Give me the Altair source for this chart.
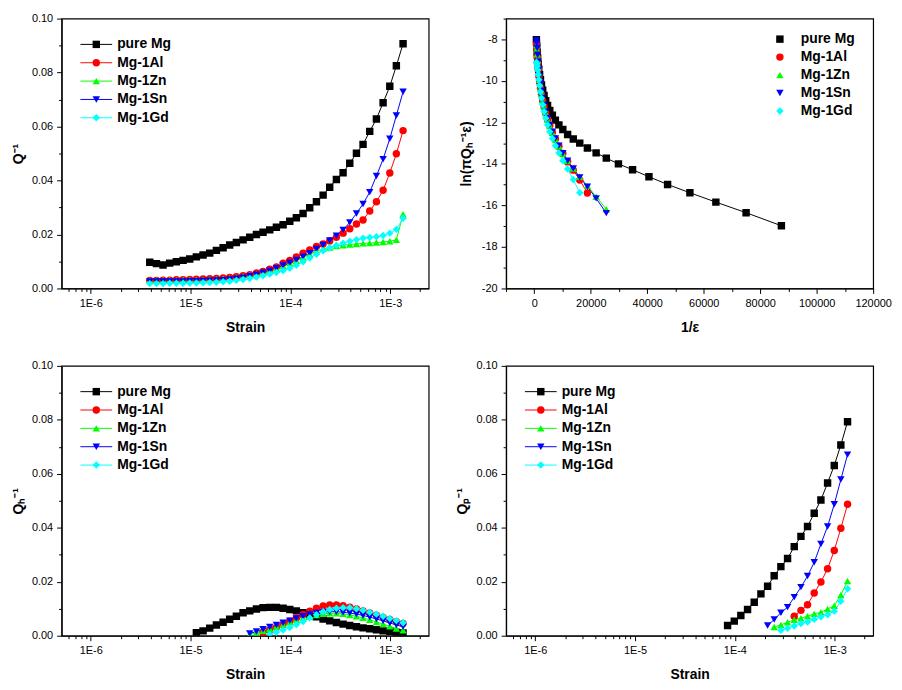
import altair as alt
import pandas as pd

FONT = "Liberation Sans"
SERIES = ["pure Mg", "Mg-1Al", "Mg-1Zn", "Mg-1Sn", "Mg-1Gd"]
COLORS = ["#000000", "#ff0000", "#00ff00", "#0000ff", "#00ffff"]
SHAPES = ["square", "circle", "triangle-up", "triangle-down", "diamond"]

# strain amplitude grid (k = 1..39)
STRAIN = [3.90e-6, 4.55e-6, 5.30e-6, 6.18e-6, 7.21e-6, 8.41e-6, 9.81e-6, 1.143e-5,
          1.334e-5, 1.556e-5, 1.815e-5, 2.118e-5, 2.466e-5, 2.877e-5, 3.357e-5,
          3.917e-5, 4.571e-5, 5.321e-5, 6.209e-5, 7.244e-5, 8.453e-5, 9.863e-5,
          1.148e-4, 1.340e-4, 1.563e-4, 1.824e-4, 2.128e-4, 2.477e-4, 2.891e-4,
          3.373e-4, 3.936e-4, 4.592e-4, 5.346e-4, 6.237e-4, 7.278e-4, 8.492e-4,
          9.908e-4, 1.153e-3, 1.346e-3]
# 1/strain for k = 8..39
INV_STRAIN = [87500, 75000, 64300, 55100, 47200, 40600, 34800, 29800, 25500, 21900,
              18800, 16100, 13800, 11800, 10100, 8710, 7460, 6400, 5480, 4700, 4040,
              3460, 2970, 2540, 2180, 1870, 1600, 1370, 1180, 1010, 867, 743]

# total damping Q^-1 (k = 1..39)
Q_TOTAL = {
    "pure Mg": [0.0097, 0.0092, 0.0087, 0.0094, 0.0099, 0.0104, 0.0109, 0.0117, 0.0124, 0.0131,
                0.0141, 0.0151, 0.0161, 0.0170, 0.0180, 0.0190, 0.0200, 0.0208, 0.0217, 0.0227,
                0.0236, 0.0249, 0.0262, 0.0278, 0.0299, 0.0321, 0.0346, 0.0375, 0.0404, 0.0429,
                0.0464, 0.0501, 0.0534, 0.0582, 0.0628, 0.0688, 0.0749, 0.0825, 0.0907],
    "Mg-1Al": [0.0030, 0.0030, 0.0031, 0.0031, 0.0032, 0.0032, 0.0033, 0.0034, 0.0035, 0.0036,
               0.0037, 0.0039, 0.0041, 0.0044, 0.0047, 0.0051, 0.0057, 0.0063, 0.0071, 0.0080,
               0.0094, 0.0104, 0.0117, 0.0131, 0.0143, 0.0156, 0.0165, 0.0176, 0.0190, 0.0205,
               0.0221, 0.0239, 0.0254, 0.0287, 0.0321, 0.0364, 0.0428, 0.0499, 0.0585],
    "Mg-1Zn": [0.0031, 0.0031, 0.0031, 0.0031, 0.0031, 0.0032, 0.0032, 0.0032, 0.0032, 0.0033,
               0.0034, 0.0036, 0.0038, 0.0041, 0.0045, 0.0049, 0.0054, 0.0060, 0.0067, 0.0075,
               0.0083, 0.0093, 0.0103, 0.0115, 0.0127, 0.0138, 0.0147, 0.0152, 0.0157, 0.0160,
               0.0163, 0.0165, 0.0167, 0.0168, 0.0170, 0.0172, 0.0175, 0.0180, 0.0275],
    "Mg-1Sn": [0.0026, 0.0026, 0.0026, 0.0026, 0.0026, 0.0026, 0.0027, 0.0027, 0.0028, 0.0029,
               0.0030, 0.0031, 0.0033, 0.0036, 0.0040, 0.0045, 0.0051, 0.0058, 0.0066, 0.0075,
               0.0085, 0.0095, 0.0106, 0.0118, 0.0131, 0.0146, 0.0161, 0.0178, 0.0195, 0.0217,
               0.0245, 0.0278, 0.0313, 0.0357, 0.0417, 0.0479, 0.0555, 0.0641, 0.0729],
    "Mg-1Gd": [0.0018, 0.0018, 0.0018, 0.0019, 0.0019, 0.0019, 0.0020, 0.0020, 0.0021, 0.0022,
               0.0023, 0.0025, 0.0027, 0.0030, 0.0033, 0.0037, 0.0042, 0.0047, 0.0053, 0.0059,
               0.0066, 0.0075, 0.0086, 0.0099, 0.0113, 0.0127, 0.0140, 0.0151, 0.0160, 0.0168,
               0.0175, 0.0181, 0.0186, 0.0189, 0.0192, 0.0196, 0.0205, 0.0219, 0.0260],
}
Q_TOTAL_START = {"pure Mg": 1, "Mg-1Al": 1, "Mg-1Zn": 1, "Mg-1Sn": 1, "Mg-1Gd": 1}

# Q_h^-1
Q_H = {
    "pure Mg": [0.0011, 0.0018, 0.0028, 0.0040, 0.0050, 0.0061, 0.0072, 0.0085, 0.0092, 0.0099,
                0.0104, 0.0105, 0.0105, 0.0102, 0.0097, 0.0092, 0.0085, 0.0077, 0.0070, 0.0062,
                0.0055, 0.0049, 0.0043, 0.0038, 0.0033, 0.0029, 0.0026, 0.0022, 0.0018, 0.0016,
                0.0012, 0.0010],
    "Mg-1Al": [0.0012, 0.0021, 0.0031, 0.0042, 0.0054, 0.0066, 0.0079, 0.0091, 0.0102, 0.0110,
               0.0114, 0.0114, 0.0111, 0.0106, 0.0099, 0.0092, 0.0084, 0.0076, 0.0068, 0.0060,
               0.0052, 0.0045],
    "Mg-1Zn": [0.0005, 0.0011, 0.0018, 0.0026, 0.0034, 0.0042, 0.0050, 0.0058, 0.0065, 0.0071,
               0.0077, 0.0081, 0.0083, 0.0083, 0.0081, 0.0077, 0.0072, 0.0066, 0.0059, 0.0051,
               0.0043, 0.0035, 0.0027, 0.0020],
    "Mg-1Sn": [0.0008, 0.0016, 0.0024, 0.0032, 0.0040, 0.0048, 0.0056, 0.0064, 0.0072, 0.0079,
               0.0084, 0.0087, 0.0089, 0.0089, 0.0087, 0.0084, 0.0080, 0.0075, 0.0069, 0.0062,
               0.0055, 0.0047, 0.0040, 0.0033],
    "Mg-1Gd": [0.0006, 0.0013, 0.0021, 0.0030, 0.0041, 0.0053, 0.0066, 0.0078, 0.0089, 0.0097,
               0.0102, 0.0104, 0.0104, 0.0100, 0.0094, 0.0087, 0.0080, 0.0072, 0.0064, 0.0056,
               0.0048],
}
Q_H_START = {"pure Mg": 8, "Mg-1Al": 18, "Mg-1Zn": 16, "Mg-1Sn": 16, "Mg-1Gd": 19}

# ln(pi Q_H^-1 eps)
LN_QE = {
    "pure Mg": [-16.98, -16.35, -15.84, -15.39, -14.99, -14.62, -14.28, -14.00, -13.72, -13.47,
                -13.23, -13.00, -12.80, -12.58, -12.34, -12.12, -11.89, -11.65, -11.42, -11.18,
                -10.95, -10.70, -10.45, -10.20, -9.95, -9.70, -9.45, -9.18, -8.90, -8.62,
                -8.32, -8.02],
    "Mg-1Al": [-15.40, -14.78, -14.30, -13.90, -13.50, -13.15, -12.80, -12.48, -12.15, -11.85,
               -11.55, -11.25, -10.95, -10.65, -10.35, -10.05, -9.75, -9.45, -9.15, -8.85,
               -8.55, -8.25],
    "Mg-1Zn": [-16.18, -15.58, -15.05, -14.62, -14.22, -13.85, -13.50, -13.15, -12.82, -12.50,
               -12.18, -11.87, -11.56, -11.25, -10.93, -10.60, -10.27, -9.95, -9.62, -9.30,
               -9.00, -8.72, -8.48, -8.28],
    "Mg-1Sn": [-16.37, -15.66, -15.10, -14.65, -14.22, -13.85, -13.48, -13.12, -12.78, -12.45,
               -12.12, -11.80, -11.48, -11.15, -10.82, -10.48, -10.13, -9.78, -9.43, -9.08,
               -8.74, -8.42, -8.18, -8.05],
    "Mg-1Gd": [-15.39, -14.75, -14.25, -13.85, -13.48, -13.12, -12.78, -12.45, -12.12, -11.80,
               -11.48, -11.15, -10.83, -10.52, -10.22, -9.95, -9.70, -9.48, -9.30, -9.18,
               -9.10],
}

# Q_p^-1
Q_P = {
    "pure Mg": [0.0038, 0.0054, 0.0075, 0.0097, 0.0124, 0.0155, 0.0183, 0.0222, 0.0256, 0.0286,
                0.0330, 0.0368, 0.0405, 0.0454, 0.0503, 0.0566, 0.0631, 0.0707, 0.0793],
    "Mg-1Al": [0.0072, 0.0094, 0.0115, 0.0158, 0.0199, 0.0248, 0.0316, 0.0398, 0.0487],
    "Mg-1Zn": [0.0032, 0.0040, 0.0050, 0.0059, 0.0065, 0.0072, 0.0081, 0.0087, 0.0099, 0.0111,
               0.0151, 0.0203],
    "Mg-1Sn": [0.0038, 0.0060, 0.0085, 0.0106, 0.0143, 0.0180, 0.0221, 0.0272, 0.0340, 0.0405,
               0.0487, 0.0579, 0.0671],
    "Mg-1Gd": [0.0020, 0.0028, 0.0036, 0.0045, 0.0051, 0.0061, 0.0070, 0.0078, 0.0091, 0.0128,
               0.0174],
}
Q_P_START = {"pure Mg": 21, "Mg-1Al": 31, "Mg-1Zn": 28, "Mg-1Sn": 27, "Mg-1Gd": 29}


def table(xs, first_k, vals, starts):
    rows = []
    for order, name in enumerate(SERIES):
        for i, v in enumerate(vals[name]):
            rows.append({"series": name, "order": order,
                         "x": xs[starts[name] - first_k + i], "y": v})
    return pd.DataFrame(rows)


LEGEND_DF = pd.DataFrame({"series": SERIES, "order": list(range(len(SERIES)))})

STRAIN_TICKS = [m * 10.0 ** e for e in range(-7, -2) for m in range(1, 10)]
STRAIN_TICKS = [t for t in STRAIN_TICKS if 5.1e-7 <= t <= 2.43e-3]
DECADE = "abs(log(datum.value)/LN10 - round(log(datum.value)/LN10)) < 0.001"


def strain_axis():
    return alt.Axis(title="Strain", values=STRAIN_TICKS,
                    labelExpr=f"({DECADE}) ? '1E' + round(log(datum.value)/LN10) : ''",
                    tickSize={"condition": {"test": DECADE, "value": 5}, "value": 3},
                    labelPadding=4, titlePadding=12)


def q_axis(title):
    even = "round(datum.value*100) % 2 == 0"
    return alt.Axis(title=title, values=[i / 100 for i in range(11)],
                    labelExpr=f"({even}) ? format(datum.value, '.2f') : ''",
                    tickSize={"condition": {"test": even, "value": 5}, "value": 3},
                    labelPadding=4, titlePadding=6)


def panel(df, x_scale, x_axis, y_scale, y_axis, key_line, sym_x, lab_x, rows):
    col = alt.Color("series:N", scale=alt.Scale(domain=SERIES, range=COLORS), legend=None)
    shp = alt.Shape("series:N", scale=alt.Scale(domain=SERIES, range=SHAPES), legend=None)
    base = alt.Chart(df)
    x = alt.X("x:Q", scale=x_scale, axis=x_axis)
    y = alt.Y("y:Q", scale=y_scale, axis=y_axis)
    lines = base.mark_line(strokeWidth=1, clip=True).encode(x=x, y=y, color=col)
    points = base.mark_point(filled=True, size=56, opacity=1, clip=True).encode(
        x=x, y=y, color=col, shape=shp, order=alt.Order("order:Q"))
    data_layer = alt.layer(lines, points)

    # in-plot legend (Origin style)
    ly = alt.Y("series:N", axis=None,
               scale=alt.Scale(type="point", domain=SERIES, range=rows, padding=0))
    lbase = alt.Chart(LEGEND_DF)
    keys = []
    if key_line:
        keys.append(lbase.mark_rule(strokeWidth=1).encode(
            x=alt.value(key_line[0]), x2=alt.value(key_line[1]), y=ly, color=col))
    keys.append(lbase.mark_point(filled=True, size=56, opacity=1).encode(
        x=alt.value(sym_x), y=ly, color=col, shape=shp))
    keys.append(lbase.mark_text(align="left", baseline="middle", font=FONT, fontSize=14,
                                fontWeight="bold", color="black").encode(
        x=alt.value(lab_x), y=ly, text="series:N"))
    legend_layer = alt.layer(*keys)
    return (alt.layer(data_layer, legend_layer)
            .resolve_scale(y="independent")
            .properties(width=370, height=272))


strain_scale = alt.Scale(type="log", domain=[5.1e-7, 2.43e-3], nice=False)

p1 = panel(table(STRAIN, 1, Q_TOTAL, Q_TOTAL_START), strain_scale, strain_axis(),
           alt.Scale(domain=[0, 0.1], nice=False), q_axis("Q⁻¹"),
           (19, 51), 35, 56, [26, 100])

inv_ticks = list(range(-10000, 120001, 10000))
ln_ticks = list(range(-20, -6))
p2 = panel(table(INV_STRAIN, 8, LN_QE, Q_H_START),
           alt.Scale(domain=[-10000, 120000], nice=False),
           alt.Axis(title="1/ε", values=inv_ticks,
                    labelExpr="(round(datum.value/10000) % 2 == 0) ? '' + datum.value : ''",
                    tickSize={"condition": {"test": "round(datum.value/10000) % 2 == 0", "value": 5}, "value": 3},
                    labelPadding=4, titlePadding=12),
           alt.Scale(domain=[-20, -7], nice=False),
           alt.Axis(title="ln(πQₕ⁻¹ε)", values=ln_ticks,
                    labelExpr="(round(datum.value) % 2 == 0) ? '' + datum.value : ''",
                    tickSize={"condition": {"test": "round(datum.value) % 2 == 0", "value": 5}, "value": 3},
                    labelPadding=4, titlePadding=8),
           None, 276, 297, [20.7, 93.2])

p3 = panel(table(STRAIN, 1, Q_H, Q_H_START), strain_scale, strain_axis(),
           alt.Scale(domain=[0, 0.1], nice=False), q_axis("Qₕ⁻¹"),
           (19, 51), 35, 56, [26, 100])

p4 = panel(table(STRAIN, 1, Q_P, Q_P_START), strain_scale, strain_axis(),
           alt.Scale(domain=[0, 0.1], nice=False), q_axis("Qₚ⁻¹"),
           (19, 51), 35, 56, [26, 100])

chart = (alt.concat(p1, p2, p3, p4, columns=2, spacing=78, bounds="flush")
         .properties(padding={"left": 2, "top": 1, "right": 2, "bottom": 1})
         .configure_view(stroke="black", strokeWidth=1.2)
         .configure_axis(grid=False, domainColor="black", domainWidth=1.2, tickColor="black",
                         tickWidth=1, labelColor="black", titleColor="black", labelFont=FONT,
                         titleFont=FONT, labelFontSize=11, titleFontSize=14,
                         titleFontWeight="bold", labelOverlap=False, labelFlush=False,
                         labelBound=False))

chart.save("out.html", embed_options={"renderer": "svg", "actions": False})
